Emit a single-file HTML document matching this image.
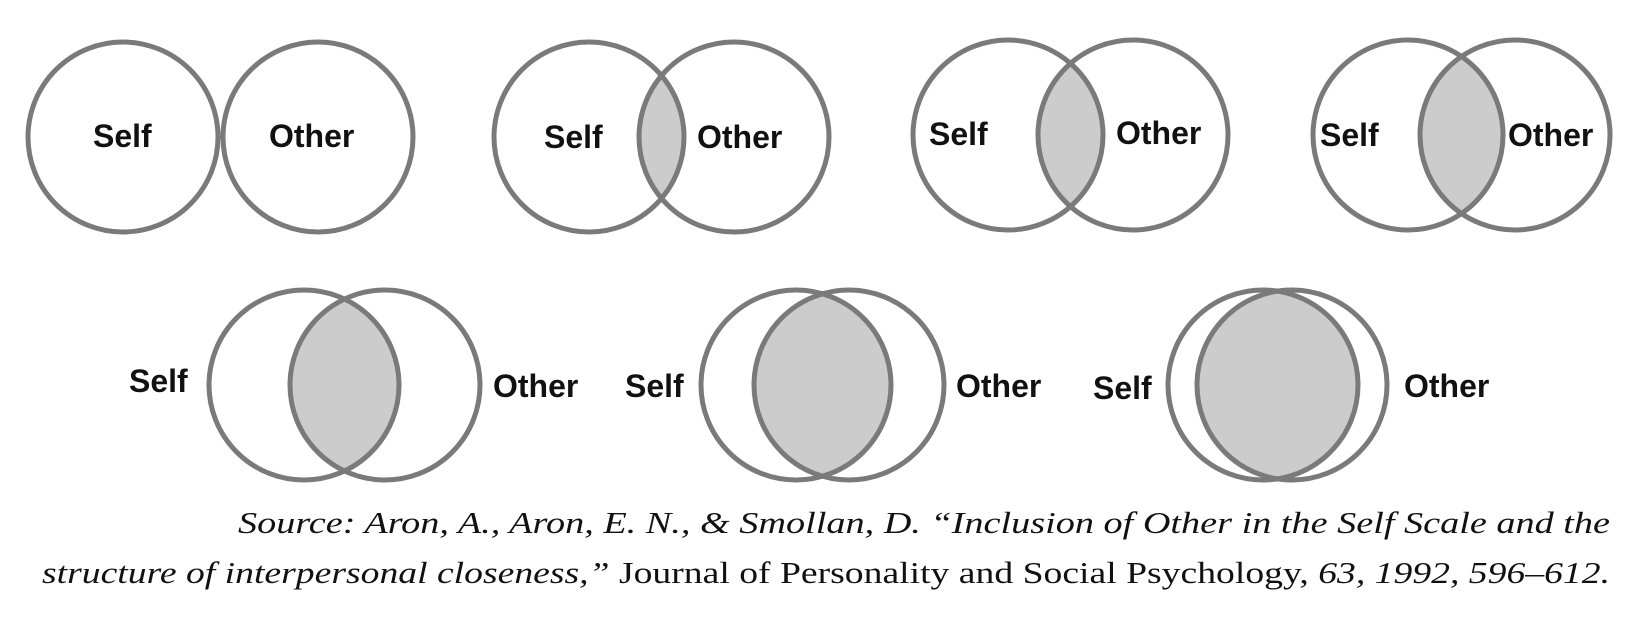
<!DOCTYPE html>
<html><head><meta charset="utf-8"><style>
html,body{margin:0;padding:0;background:#fff;}
svg{display:block}
.l{font-family:"Liberation Sans",sans-serif;font-weight:bold;font-size:32px;fill:#111}
.c{font-family:"Liberation Serif",serif;font-size:31px;fill:#111}
</style></head><body>
<svg width="1648" height="626" viewBox="0 0 1648 626" xmlns="http://www.w3.org/2000/svg">
<defs>
<clipPath id="k2"><circle cx="734" cy="137" r="95"/></clipPath>
<clipPath id="k3"><circle cx="1133" cy="135" r="95"/></clipPath>
<clipPath id="k4"><circle cx="1515" cy="135" r="95"/></clipPath>
<clipPath id="k5"><circle cx="385" cy="385" r="95"/></clipPath>
<clipPath id="k6"><circle cx="849" cy="385" r="95"/></clipPath>
<clipPath id="k7"><circle cx="1292" cy="385" r="95"/></clipPath>
</defs>
<g fill="#ccc">
<circle cx="589" cy="137" r="95" clip-path="url(#k2)"/>
<circle cx="1008" cy="135" r="95" clip-path="url(#k3)"/>
<circle cx="1408" cy="135" r="95" clip-path="url(#k4)"/>
<circle cx="304" cy="385" r="95" clip-path="url(#k5)"/>
<circle cx="796" cy="385" r="95" clip-path="url(#k6)"/>
<circle cx="1263" cy="385" r="95" clip-path="url(#k7)"/>
</g>
<g fill="none" stroke="#7a7a7a" stroke-width="5">
<circle cx="123" cy="137" r="95"/><circle cx="318" cy="137" r="95"/>
<circle cx="589" cy="137" r="95"/><circle cx="734" cy="137" r="95"/>
<circle cx="1008" cy="135" r="95"/><circle cx="1133" cy="135" r="95"/>
<circle cx="1408" cy="135" r="95"/><circle cx="1515" cy="135" r="95"/>
<circle cx="304" cy="385" r="95"/><circle cx="385" cy="385" r="95"/>
<circle cx="796" cy="385" r="95"/><circle cx="849" cy="385" r="95"/>
<circle cx="1263" cy="385" r="95"/><circle cx="1292" cy="385" r="95"/>
</g>
<g class="l">
<text x="93" y="147">Self</text><text x="269" y="147">Other</text>
<text x="544" y="148">Self</text><text x="697" y="148">Other</text>
<text x="929" y="145">Self</text><text x="1116" y="144">Other</text>
<text x="1320" y="146">Self</text><text x="1508" y="146">Other</text>
<text x="129" y="392">Self</text><text x="493" y="397">Other</text>
<text x="625" y="397">Self</text><text x="956" y="397">Other</text>
<text x="1093" y="399">Self</text><text x="1404" y="397">Other</text>
</g>
<text class="c" x="238" y="533" textLength="1372" lengthAdjust="spacingAndGlyphs"><tspan font-style="italic">Source: Aron, A., Aron, E. N., &amp; Smollan, D. “Inclusion of Other in the Self Scale and the</tspan></text>
<text class="c" x="42" y="583" textLength="1568" lengthAdjust="spacingAndGlyphs"><tspan font-style="italic">structure of interpersonal closeness,”</tspan> Journal of Personality and Social Psychology, <tspan font-style="italic">63, 1992, 596–612.</tspan></text>
</svg>
</body></html>
